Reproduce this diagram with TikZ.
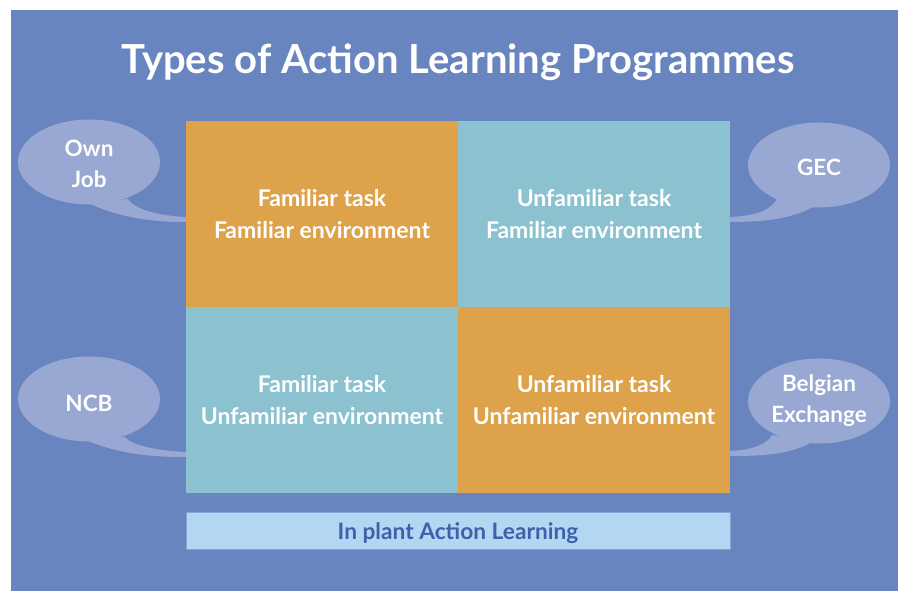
\documentclass[tikz,border=0pt]{standalone}
\usepackage{fontspec}
\setmainfont{Lato}
\usetikzlibrary{shapes.geometric}
\definecolor{bgblue}{HTML}{6885C0}
\definecolor{cellorange}{HTML}{DDA24A}
\definecolor{cellteal}{HTML}{8CC2CF}
\definecolor{bubble}{HTML}{99A8D3}
\definecolor{barfill}{HTML}{B3D6F3}
\definecolor{barline}{HTML}{82A6D8}
\definecolor{bartext}{HTML}{3B62AA}
\begin{document}
\begin{tikzpicture}[x=1pt,y=-1pt,
  cell/.style={rectangle, inner sep=0pt, minimum width=272pt, minimum height=186pt,
    align=center, text=white, font=\fontsize{23}{32}\selectfont\bfseries},
  bubblebox/.style={ellipse, fill=bubble, inner sep=0pt, minimum width=142pt,
    minimum height=85pt, align=center, text=white,
    font=\fontsize{22.5}{31}\selectfont\bfseries},
  bubbletext/.style={align=center, text=white, inner sep=0pt,
    font=\fontsize{22.5}{31}\selectfont\bfseries},
  tail/.style={fill=bubble},
  bar/.style={rectangle, fill=barfill, draw=barline, line width=0.8pt, inner sep=0pt,
    minimum width=544pt, minimum height=37pt},
  bartextstyle/.style={text=bartext, inner sep=0pt,
    font=\fontsize{22.7}{26}\selectfont\bfseries}]
  % canvas and backdrop
  \useasboundingbox (0,0) rectangle (898,591);
  \fill[white] (0,0) rectangle (898,591);
  \fill[bgblue] (11,10) rectangle (898,591);

  % heading
  \node[text=white, font=\fontsize{40}{48}\selectfont\bfseries] (title) at (458,62.5)
    {Types of Action Learning Programmes};

  % bubble tails
  \fill[tail] (88,203) .. controls (125,220) and (160,222) .. (187,222)
    -- (187,217) .. controls (160,216) and (135,210) .. (128,199) -- cycle;
  \fill[tail] (88,441) .. controls (125,456) and (160,457) .. (187,457)
    -- (187,452) .. controls (160,451) and (132,446) .. (125,437) -- cycle;
  \fill[tail] (815,206) .. controls (790,220) and (760,222) .. (729,222)
    -- (729,217) .. controls (760,216) and (772,208) .. (777,199) -- cycle;
  \fill[tail] (812,442) .. controls (790,455) and (760,456) .. (729,456)
    -- (729,451) .. controls (755,450) and (768,443) .. (772,435) -- cycle;

  % speech bubbles
  \node[bubblebox] (own) at (89,162) {};
  \node[bubblebox] (ncb) at (89,399) {};
  \node[bubblebox] (gec) at (819,165) {};
  \node[bubblebox] (bel) at (819,401) {};
  \node[bubbletext] (ownt) at (89,164) {Own\\Job};
  \node[bubbletext] (ncbt) at (89,403) {NCB};
  \node[bubbletext] (gect) at (819,167) {GEC};
  \node[bubbletext] (belt) at (819,401) {Belgian\\Exchange};

  % task / environment grid
  \node[cell, fill=cellorange] (ff) at (322,214) {Familiar task\\Familiar environment};
  \node[cell, fill=cellteal]   (uf) at (594,214) {Unfamiliar task\\Familiar environment};
  \node[cell, fill=cellteal]   (fu) at (322,400) {Familiar task\\Unfamiliar environment};
  \node[cell, fill=cellorange] (uu) at (594,400) {Unfamiliar task\\Unfamiliar environment};

  % base strip
  \node[bar] (inplant) at (458,530.5) {};
  \node[bartextstyle] (inplantt) at (458,533) {In plant Action Learning};
\end{tikzpicture}
\end{document}
